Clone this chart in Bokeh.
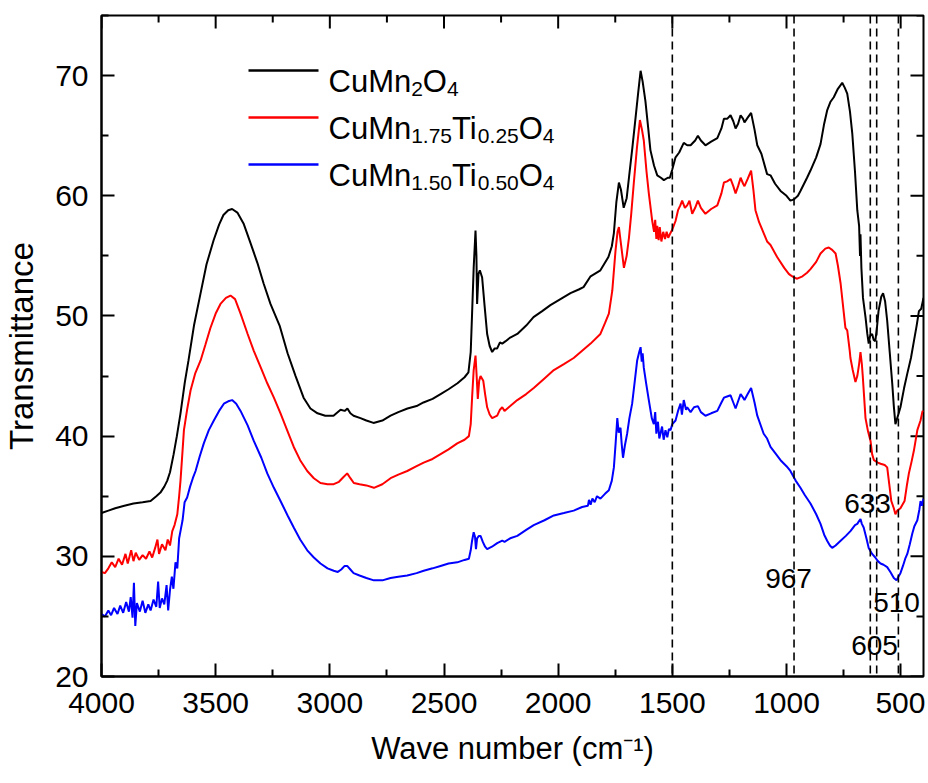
from bokeh.plotting import figure
from bokeh.models import Range1d, FixedTicker, Span, Label
from bokeh.embed import file_html
from bokeh.resources import INLINE

# ---------------- data ----------------
series_names = ["CuMn2O4", "CuMn1.75Ti0.25O4", "CuMn1.50Ti0.50O4"]

w_black = [4000, 3970, 3940, 3900, 3860, 3820, 3785, 3760, 3742, 3725, 3712, 3700, 3684, 3670, 3654, 3635,
           3619, 3595, 3566, 3540, 3509, 3485, 3466, 3445, 3428, 3405, 3378, 3350, 3317, 3290, 3260, 3220,
           3185, 3150, 3115, 3085, 3054, 3020, 2984, 2953, 2935, 2923, 2910, 2896, 2866, 2840, 2809, 2770,
           2734, 2700, 2660, 2620, 2590, 2550, 2515, 2480, 2441, 2410, 2393, 2383, 2377, 2370, 2362, 2358,
           2355, 2349, 2343, 2333, 2322, 2311, 2300, 2289, 2278, 2267, 2255, 2245, 2230, 2210, 2179, 2140,
           2108, 2070, 2034, 1990, 1946, 1910, 1889, 1858, 1815, 1780, 1765, 1756, 1745, 1734, 1725, 1713,
           1700, 1690, 1675, 1661, 1650, 1639, 1630, 1618, 1605, 1596, 1580, 1566, 1550, 1537, 1520, 1511,
           1500, 1486, 1470, 1450, 1435, 1420, 1400, 1388, 1375, 1355, 1330, 1303, 1285, 1274, 1260, 1245,
           1233, 1223, 1212, 1201, 1190, 1184, 1170, 1155, 1140, 1128, 1110, 1085, 1070, 1050, 1026, 1000,
           983, 967, 950, 939, 910, 895, 870, 851, 835, 822, 808, 793, 775, 756, 745, 734,
           722, 712, 700, 690, 682, 678, 676, 672, 665, 654, 646, 640, 633, 625, 618, 611,
           604, 597, 585, 577, 568, 559, 548, 537, 530, 523, 515, 501, 485, 471, 455, 442,
           430, 420, 410, 400]
t_black = [33.6, 33.8, 34.0, 34.2, 34.4, 34.5, 34.6, 35.0, 35.3, 35.8, 36.3, 37.0, 38.5, 40.0, 41.9, 44.5,
           46.3, 49.2, 51.9, 54.3, 56.3, 57.6, 58.4, 58.8, 58.9, 58.6, 57.7, 56.2, 54.4, 52.7, 51.0, 49.2,
           46.9, 45.0, 43.2, 42.3, 41.9, 41.7, 41.7, 42.2, 42.1, 42.3, 41.9, 41.7, 41.5, 41.3, 41.1, 41.3,
           41.7, 42.0, 42.3, 42.5, 42.8, 43.1, 43.5, 43.9, 44.4, 44.9, 45.3, 47.0, 50.2, 54.0, 57.1, 55.0,
           51.0, 53.5, 53.8, 53.2, 50.8, 48.5, 47.5, 47.0, 47.3, 47.3, 47.8, 47.7, 47.9, 48.2, 48.5, 49.2,
           49.9, 50.4, 50.9, 51.4, 51.9, 52.2, 52.4, 53.3, 53.8, 54.9, 55.8, 56.9, 59.5, 61.1, 60.5, 59.0,
           59.8, 61.5, 64.0, 66.5, 68.5, 70.4, 69.5, 67.9, 65.5, 63.8, 62.5, 61.7, 61.5, 61.3, 61.5, 61.5,
           62.2, 63.2, 63.6, 64.4, 64.2, 64.2, 64.6, 65.0, 64.6, 64.2, 64.5, 64.8, 65.6, 66.4, 66.4, 66.7,
           66.2, 65.6, 66.0, 66.7, 66.4, 66.1, 66.5, 66.9, 65.5, 64.2, 63.5, 61.8, 61.7, 61.0, 60.4, 60.0,
           59.6, 59.7, 60.0, 60.4, 61.5, 62.1, 63.2, 64.3, 66.0, 67.1, 67.8, 68.2, 68.9, 69.4, 69.0, 68.5,
           67.0, 65.2, 62.0, 58.8, 57.5, 55.0, 56.8, 54.0, 51.5, 49.9, 48.5, 47.7, 48.4, 48.5, 48.0, 47.9,
           49.0, 50.4, 51.6, 51.9, 51.2, 49.6, 47.0, 44.4, 42.5, 41.0, 41.5, 42.4, 44.0, 45.2, 46.5, 47.9,
           49.2, 50.4, 50.6, 51.5]

w_red = [4000, 3985, 3970, 3955, 3940, 3925, 3910, 3895, 3885, 3870, 3860, 3850, 3835, 3820, 3805, 3790,
         3778, 3765, 3755, 3748, 3735, 3720, 3710, 3700, 3690, 3680, 3668, 3660, 3654, 3645, 3639, 3625,
         3610, 3590, 3566, 3545, 3523, 3500, 3479, 3455, 3435, 3415, 3391, 3360, 3333, 3300, 3274, 3245,
         3216, 3185, 3158, 3130, 3099, 3070, 3041, 3010, 2983, 2960, 2940, 2924, 2910, 2895, 2870, 2840,
         2807, 2770, 2734, 2700, 2661, 2620, 2589, 2550, 2515, 2480, 2442, 2410, 2391, 2383, 2377, 2370,
         2362, 2357, 2352, 2346, 2340, 2328, 2320, 2311, 2300, 2289, 2278, 2267, 2255, 2245, 2235, 2210,
         2179, 2140, 2107, 2060, 2019, 1975, 1932, 1895, 1858, 1815, 1795, 1778, 1763, 1749, 1740, 1734,
         1725, 1712, 1700, 1690, 1680, 1669, 1655, 1642, 1633, 1625, 1613, 1603, 1588, 1580, 1575, 1570,
         1566, 1560, 1555, 1548, 1540, 1532, 1525, 1518, 1511, 1500, 1486, 1475, 1465, 1457, 1445, 1435,
         1425, 1413, 1400, 1388, 1375, 1355, 1330, 1303, 1285, 1274, 1260, 1245, 1233, 1223, 1212, 1201,
         1190, 1184, 1170, 1155, 1145, 1136, 1120, 1100, 1085, 1070, 1041, 1010, 990, 983, 967, 953,
         930, 910, 895, 870, 851, 830, 815, 800, 785, 775, 763, 742, 734, 723, 720, 710,
         698, 690, 682, 676, 670, 666, 654, 643, 632, 625, 617, 600, 588, 570, 559, 550,
         541, 530, 523, 515, 501, 483, 472, 464, 452, 442, 427, 413, 404, 400]
t_red = [28.7, 28.6, 29.0, 29.5, 29.1, 29.8, 29.3, 30.2, 29.4, 30.5, 29.6, 30.3, 29.7, 30.1, 29.8, 30.4,
         29.9, 30.7, 31.4, 30.2, 31.0, 30.5, 31.4, 30.9, 32.1, 32.6, 33.5, 35.0, 36.3, 38.8, 40.5, 42.2,
         43.8, 45.2, 46.3, 47.6, 49.0, 50.2, 51.0, 51.5, 51.7, 51.4, 50.2, 48.5, 47.1, 45.6, 44.4, 43.2,
         41.9, 40.4, 39.1, 38.0, 37.1, 36.5, 36.1, 36.0, 36.0, 36.2, 36.6, 36.9, 36.5, 36.1, 36.0, 35.9,
         35.7, 36.0, 36.5, 36.8, 37.1, 37.5, 37.8, 38.1, 38.5, 38.9, 39.4, 39.7, 40.0, 41.0, 43.2, 45.5,
         46.7, 45.0, 43.1, 44.6, 45.0, 44.6, 43.5, 42.4, 41.8, 41.5, 41.6, 41.7, 42.2, 42.4, 42.1, 42.5,
         43.0, 43.5, 44.0, 44.8, 45.5, 46.0, 46.5, 47.1, 47.7, 48.5, 49.4, 50.2, 52.1, 55.4, 57.0, 57.4,
         56.0, 54.0, 55.0, 56.5, 58.5, 61.0, 64.0, 66.3, 65.5, 64.6, 62.0, 60.2, 57.9, 57.0, 58.0, 56.4,
         57.5, 56.3, 57.4, 56.2, 57.0, 56.4, 57.0, 56.5, 56.8, 57.2, 57.9, 58.8, 59.2, 59.6, 59.0, 59.2,
         59.6, 58.5, 59.0, 59.6, 59.0, 58.5, 58.9, 59.2, 60.2, 61.1, 61.2, 61.4, 60.8, 60.2, 60.8, 61.5,
         61.0, 60.8, 61.4, 62.1, 60.5, 58.8, 57.8, 56.9, 56.2, 55.9, 54.9, 54.0, 53.5, 53.4, 53.2, 53.1,
         53.3, 53.6, 53.9, 54.5, 55.2, 55.6, 55.7, 55.5, 55.2, 54.2, 52.7, 49.0, 48.8, 47.1, 46.5, 45.5,
         44.5, 45.0, 46.0, 47.0, 46.0, 45.0, 41.5, 40.4, 39.6, 38.5, 38.0, 37.8, 37.7, 37.6, 37.4, 36.0,
         34.6, 34.0, 33.5, 33.8, 34.0, 34.6, 36.0, 36.9, 37.9, 38.8, 40.5, 41.3, 42.1, 42.0]

w_blue = [4000, 3985, 3970, 3958, 3945, 3930, 3918, 3905, 3892, 3880, 3872, 3864, 3858, 3852, 3845, 3832,
          3820, 3808, 3795, 3785, 3772, 3760, 3752, 3745, 3735, 3725, 3715, 3708, 3700, 3692, 3685, 3676,
          3668, 3660, 3652, 3645, 3636, 3625, 3612, 3600, 3588, 3570, 3552, 3530, 3508, 3485, 3464, 3445,
          3428, 3410, 3391, 3360, 3333, 3300, 3274, 3245, 3216, 3185, 3158, 3130, 3099, 3070, 3041, 3010,
          2983, 2965, 2950, 2935, 2924, 2910, 2896, 2870, 2840, 2807, 2770, 2734, 2700, 2661, 2620, 2589,
          2550, 2515, 2480, 2442, 2410, 2391, 2383, 2377, 2370, 2364, 2360, 2355, 2347, 2340, 2330, 2320,
          2311, 2290, 2267, 2245, 2235, 2210, 2179, 2140, 2107, 2060, 2019, 1975, 1932, 1895, 1870, 1865,
          1858, 1850, 1840, 1830, 1815, 1795, 1778, 1765, 1756, 1748, 1741, 1735, 1727, 1722, 1716, 1708,
          1698, 1688, 1676, 1665, 1654, 1645, 1639, 1634, 1630, 1625, 1614, 1603, 1590, 1581, 1575, 1570,
          1563, 1557, 1552, 1545, 1538, 1530, 1522, 1515, 1508, 1500, 1486, 1475, 1464, 1458, 1450, 1440,
          1435, 1420, 1405, 1388, 1375, 1355, 1330, 1303, 1285, 1274, 1260, 1245, 1233, 1223, 1212, 1201,
          1190, 1184, 1170, 1155, 1140, 1128, 1100, 1085, 1070, 1050, 1026, 1000, 983, 960, 939, 920,
          895, 870, 851, 835, 822, 810, 800, 785, 763, 740, 720, 700, 690, 680, 676, 670,
          662, 650, 640, 625, 611, 600, 588, 575, 559, 545, 530, 518, 510, 501, 490, 480,
          471, 460, 449, 440, 427, 418, 413, 407, 400]
t_blue = [25.2, 25.0, 25.5, 25.1, 25.7, 25.2, 25.9, 25.3, 26.2, 25.4, 26.6, 24.9, 27.8, 24.2, 26.1, 25.4,
          26.3, 25.3, 26.0, 25.5, 26.4, 25.8, 27.9, 25.7, 26.5, 26.0, 27.6, 25.5, 27.2, 28.3, 27.3, 29.5,
          29.0, 31.5, 32.3, 33.0, 34.5, 34.9, 35.8, 36.5, 37.1, 38.3, 39.4, 40.5, 41.3, 42.1, 42.7, 42.9,
          43.0, 42.7, 42.1, 40.9, 39.6, 38.2, 36.9, 35.7, 34.6, 33.4, 32.4, 31.4, 30.5, 29.9, 29.4, 29.0,
          28.8, 28.7, 28.9, 29.2, 29.2, 28.9, 28.6, 28.4, 28.2, 28.0, 28.0, 28.2, 28.3, 28.4, 28.6, 28.8,
          29.0, 29.2, 29.4, 29.5, 29.7, 29.8, 30.5, 31.3, 32.0, 31.6, 30.6, 31.5, 31.7, 31.7, 31.2, 30.8,
          30.6, 30.8, 31.1, 31.3, 31.2, 31.5, 31.7, 32.2, 32.6, 33.0, 33.4, 33.6, 33.8, 34.1, 34.2, 34.7,
          34.3, 34.8, 34.5, 35.0, 34.8, 35.2, 35.5, 36.3, 37.4, 39.5, 41.5, 40.3, 40.7, 39.4, 38.2, 39.2,
          40.2, 41.5, 42.7, 44.5, 46.3, 47.0, 47.4, 46.2, 46.9, 45.7, 44.3, 43.0, 41.5, 41.0, 42.0, 40.2,
          41.2, 39.8, 40.2, 40.8, 39.7, 40.5, 39.9, 40.6, 40.5, 41.0, 41.3, 42.1, 42.7, 41.8, 43.0, 42.2,
          42.4, 42.0, 42.4, 42.5, 42.0, 41.7, 41.9, 42.1, 42.8, 43.2, 43.3, 43.4, 42.8, 42.3, 42.9, 43.5,
          43.2, 43.0, 43.5, 44.0, 42.8, 41.7, 40.2, 39.8, 39.1, 38.6, 38.0, 37.5, 37.1, 36.3, 35.7, 35.1,
          34.4, 33.5, 32.7, 31.8, 31.3, 30.9, 30.7, 30.9, 31.3, 31.7, 32.1, 32.6, 32.7, 33.0, 33.1, 32.7,
          32.4, 31.5, 30.7, 30.2, 29.9, 29.6, 29.4, 29.3, 29.1, 28.7, 28.2, 28.0, 28.3, 28.6, 29.2, 29.8,
          30.2, 31.0, 31.9, 32.5, 33.0, 33.9, 34.6, 34.2, 34.8]

x_major_ticks = [4000, 3500, 3000, 2500, 2000, 1500, 1000, 500]
x_minor_ticks = [3750, 3250, 2750, 2250, 1750, 1250, 750]
y_major_ticks = [20, 30, 40, 50, 60, 70]
y_minor_ticks = [25, 35, 45, 55, 65, 75]

dashed_lines = [1500, 967, 633, 605, 510]
peak_labels = ["967", "633", "510", "605"]

# ---------------- layout / style ----------------
X_START, X_END = 4000, 400
Y_START, Y_END = 20, 75
FRAME_LEFT, FRAME_TOP, FRAME_W, FRAME_H = 101, 15, 822, 661
FONT = "Liberation Sans"


def px2x(px):
    return X_START + (px - FRAME_LEFT) * (X_END - X_START) / FRAME_W


def py2y(py):
    return Y_END - (py - FRAME_TOP) * (Y_END - Y_START) / FRAME_H


DX_PER_PX = (X_START - X_END) / FRAME_W
DY_PER_PX = (Y_END - Y_START) / FRAME_H

peak_label_px = [(788, 578), (867, 503), (896, 602), (874, 645)]

p = figure(width=925, height=780, output_backend="svg", toolbar_location=None,
           x_range=Range1d(X_START, X_END), y_range=Range1d(Y_START, Y_END),
           min_border_left=FRAME_LEFT, min_border_right=2, min_border_top=FRAME_TOP,
           min_border_bottom=104)
p.background_fill_color = "white"
p.border_fill_color = "white"
p.outline_line_color = "black"
p.outline_line_width = 2
p.xgrid.visible = False
p.ygrid.visible = False


def style_axis(ax, ticks, minor):
    ax.ticker = FixedTicker(ticks=ticks, minor_ticks=minor)
    ax.axis_line_color = "black"
    ax.axis_line_width = 2
    ax.major_tick_line_width = 2
    ax.minor_tick_line_width = 2
    ax.major_tick_in = 13
    ax.major_tick_out = 0
    ax.minor_tick_in = 7
    ax.minor_tick_out = 0
    ax.major_label_text_font = FONT
    ax.major_label_text_font_size = "30px"
    ax.major_label_text_color = "black"
    ax.axis_label_text_font = FONT
    ax.axis_label_text_font_style = "normal"
    ax.axis_label_text_color = "black"


style_axis(p.xaxis[0], x_major_ticks, x_minor_ticks)
style_axis(p.yaxis[0], y_major_ticks, y_minor_ticks)
p.xaxis[0].axis_label = "Wave number (cm\u207b\u00b9)"
p.yaxis[0].axis_label = "Transmittance"
p.xaxis[0].axis_label_text_font_size = "31px"
p.yaxis[0].axis_label_text_font_size = "33px"
p.xaxis[0].major_label_standoff = 16
p.yaxis[0].major_label_standoff = 13
p.xaxis[0].axis_label_standoff = 15
p.yaxis[0].axis_label_standoff = 12

# inward ticks on the top and right frame edges (from the same tick lists)
for ticks, ln in ((x_major_ticks, 13), (x_minor_ticks, 7)):
    p.segment(x0=ticks, x1=ticks, y0=[Y_END] * len(ticks), y1=[Y_END - ln * DY_PER_PX] * len(ticks),
              line_color="black", line_width=2)
for ticks, ln in ((y_major_ticks, 13), (y_minor_ticks, 7)):
    p.segment(x0=[X_END] * len(ticks), x1=[X_END + ln * DX_PER_PX] * len(ticks), y0=ticks, y1=ticks,
              line_color="black", line_width=2)

# dashed marker lines
for loc in dashed_lines:
    p.add_layout(Span(location=loc, dimension="height", line_color="black",
                      line_width=1.6, line_dash="8 5"))

# spectra
colors = ["black", "#ff0000", "#0000ff"]
for xs, ys, c in zip([w_black, w_red, w_blue], [t_black, t_red, t_blue], colors):
    p.line(xs, ys, line_color=c, line_width=2)

# peak labels
for txt, (a, b) in zip(peak_labels, peak_label_px):
    p.add_layout(Label(x=px2x(a), y=py2y(b), text=txt, text_font=FONT, text_font_size="28px",
                       text_color="black", text_align="center", text_baseline="middle"))

# manual legend with subscripts
CHAR_W = {"C": 0.722, "u": 0.556, "M": 0.833, "n": 0.556, "T": 0.611, "i": 0.222,
          "O": 0.778, ".": 0.278}
for d in "0123456789":
    CHAR_W[d] = 0.556

legend_pieces = [
    [("CuMn", False), ("2", True), ("O", False), ("4", True)],
    [("CuMn", False), ("1.75", True), ("Ti", False), ("0.25", True), ("O", False), ("4", True)],
    [("CuMn", False), ("1.50", True), ("Ti", False), ("0.50", True), ("O", False), ("4", True)],
]
LEG_LINE_X0, LEG_LINE_X1, LEG_TEXT_X = 248, 318, 328
LEG_Y = [70, 117, 164]
MAIN_FS, SUB_FS = 31, 21
for pieces, ly, c in zip(legend_pieces, LEG_Y, colors):
    p.line([px2x(LEG_LINE_X0), px2x(LEG_LINE_X1)], [py2y(ly), py2y(ly)], line_color=c, line_width=2.5)
    cx = LEG_TEXT_X
    for txt, sub in pieces:
        fs = SUB_FS if sub else MAIN_FS
        base = ly + 11 + (7 if sub else 0)
        p.add_layout(Label(x=px2x(cx), y=py2y(base), text=txt, text_font=FONT,
                           text_font_size=f"{fs}px", text_color="black",
                           text_align="left", text_baseline="alphabetic"))
        cx += sum(CHAR_W[ch] for ch in txt) * fs

open("out.html", "w").write(file_html(p, INLINE))
